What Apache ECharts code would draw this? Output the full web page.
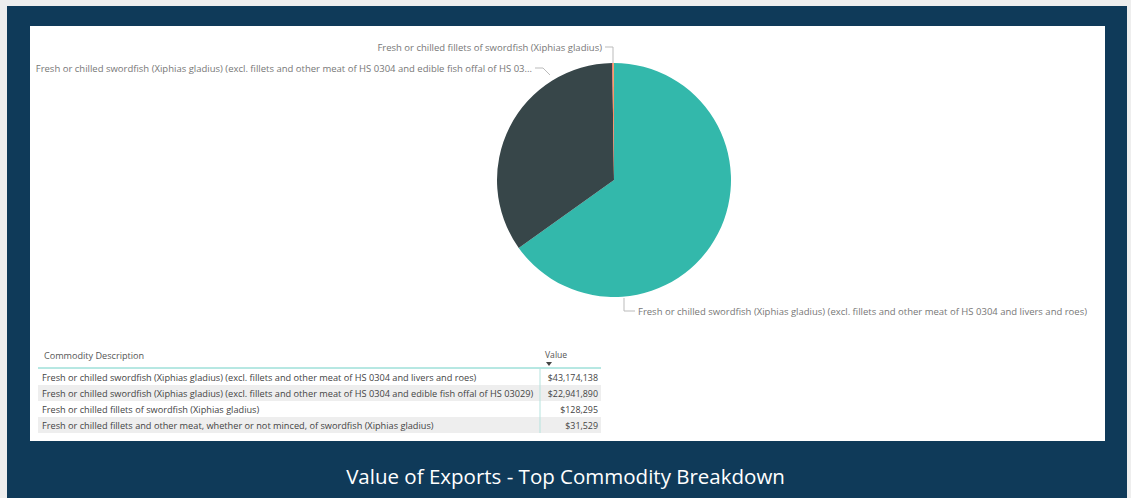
<!DOCTYPE html>
<html>
<head>
<meta charset="utf-8">
<script src="https://cdn.jsdelivr.net/npm/echarts@6/dist/echarts.min.js"></script>
<style>
  html, body { margin: 0; padding: 0; background: #eeeeee; }
  #frame { position: absolute; left: 7px; top: 6px; width: 1120px; height: 492px; background: #0f3a59; }
  #panel { position: absolute; left: 30px; top: 26px; width: 1075px; height: 415px; background: #ffffff; }
  #chart { position: absolute; left: 0; top: 0; width: 1131px; height: 498px; }
</style>
</head>
<body>
<div id="frame"></div>
<div id="panel"></div>
<div id="chart"></div>
<script>
// Export commodities and their values (USD)
const categories = [
  'Fresh or chilled swordfish (Xiphias gladius) (excl. fillets and other meat of HS 0304 and livers and roes)',
  'Fresh or chilled swordfish (Xiphias gladius) (excl. fillets and other meat of HS 0304 and edible fish offal of HS 03029)',
  'Fresh or chilled fillets of swordfish (Xiphias gladius)',
  'Fresh or chilled fillets and other meat, whether or not minced, of swordfish (Xiphias gladius)'
];
const values = [43174138, 22941890, 128295, 31529];
const sliceColors = ['#33b8ab', '#374649', '#fd625e', '#f2c80f'];
const tableHeaders = ['Commodity Description', 'Value'];
const chartTitle = 'Value of Exports - Top Commodity Breakdown';

// Pie geometry
const CX = 614, CY = 180, R = 117;
const MAX_LABEL_CHARS = 116;
const FONT = '"Open Sans", "Noto Sans", sans-serif';

function money(v) {
  return '$' + v.toLocaleString('en-US');
}
function clip(s) {
  return s.length > MAX_LABEL_CHARS ? s.slice(0, MAX_LABEL_CHARS) + '...' : s;
}

// Label placement around the pie: anchor, alignment and leader line
const labelPlacement = {
  0: { x: CX + 24, y: CY + R + 14, align: 'left',
       line: [[CX + 10, CY + R + 1], [CX + 10, CY + R + 14], [CX + 21, CY + R + 14]] },
  1: { x: CX - 82, y: CY - R + 5, align: 'right',
       line: [[CX - 64, CY - R + 12], [CX - 71, CY - R + 5], [CX - 79, CY - R + 5]] },
  2: { x: CX - 12, y: CY - R - 16, align: 'right',
       line: [[CX - 1, CY - R], [CX - 1, CY - R - 16], [CX - 9, CY - R - 16]] }
};

const pieData = categories.map((name, i) => ({
  name: name,
  value: values[i],
  itemStyle: { color: sliceColors[i] },
  label: { show: i !== 3 },
  labelLine: { show: i !== 3 }
}));

// Table built from the same arrays
const T_LEFT = 38, T_RIGHT = 601, T_DIV = 540, T_HEAD_Y = 355, T_LINE_Y = 368, ROW_H = 16;
const TEXT_FONT = '9.2px ' + FONT;
const VALUE_FONT = '8.9px ' + FONT;
const tableGraphics = [];
tableHeaders.forEach((h, i) => {
  tableGraphics.push({
    type: 'text',
    x: i === 0 ? 44 : 545, y: T_HEAD_Y,
    style: { text: h, fill: '#555', font: (i === 0 ? '9.1px ' : '8.6px ') + FONT, textVerticalAlign: 'middle' }
  });
});
tableGraphics.push({
  type: 'polygon',
  shape: { points: [[546, 362], [552, 362], [549, 366]] },
  style: { fill: '#444' }
});
categories.forEach((name, i) => {
  const top = T_LINE_Y + 1 + i * ROW_H;
  if (i % 2 === 1) {
    tableGraphics.push({
      type: 'rect',
      shape: { x: T_LEFT, y: top, width: T_RIGHT - T_LEFT, height: ROW_H },
      style: { fill: '#eeeeee' }
    });
  }
  tableGraphics.push({
    type: 'text', x: 42, y: top + ROW_H / 2,
    style: { text: name, fill: '#444', font: TEXT_FONT, textVerticalAlign: 'middle' }
  });
  tableGraphics.push({
    type: 'text', x: 598, y: top + ROW_H / 2,
    style: { text: money(values[i]), fill: '#444', font: VALUE_FONT,
             textAlign: 'right', textVerticalAlign: 'middle' }
  });
});
tableGraphics.push({
  type: 'line',
  shape: { x1: T_LEFT, y1: T_LINE_Y, x2: T_RIGHT, y2: T_LINE_Y },
  style: { stroke: '#6fd0c6', lineWidth: 1 }
});
tableGraphics.push({
  type: 'line',
  shape: { x1: T_DIV, y1: T_LINE_Y, x2: T_DIV, y2: T_LINE_Y + 1 + categories.length * ROW_H },
  style: { stroke: '#b5e3de', lineWidth: 1 }
});

const chart = echarts.init(document.getElementById('chart'), null, { renderer: 'svg' });
chart.setOption({
  backgroundColor: 'transparent',
  animation: false,
  title: {
    text: chartTitle,
    left: 'center',
    top: 460,
    textStyle: { color: '#ffffff', fontSize: 20.5, fontWeight: 'normal',
                 fontFamily: '"Open Sans", "Noto Sans", sans-serif' }
  },
  series: [{
    type: 'pie',
    center: [CX, CY],
    radius: R,
    startAngle: 90,
    clockwise: true,
    data: pieData,
    label: {
      position: 'outside',
      formatter: p => clip(p.name),
      color: '#777',
      fontSize: 9.5,
      fontFamily: FONT,
      overflow: 'none'
    },
    labelLine: { lineStyle: { color: '#bbbbbb', width: 1 }, smooth: false },
    labelLayout: function (params) {
      const p = labelPlacement[params.dataIndex];
      if (!p) return {};
      return {
        x: p.x, y: p.y, align: p.align, verticalAlign: 'middle',
        width: 600,
        labelLinePoints: p.line
      };
    },
    emphasis: { disabled: true }
  }],
  graphic: tableGraphics
});
</script>
</body>
</html>
